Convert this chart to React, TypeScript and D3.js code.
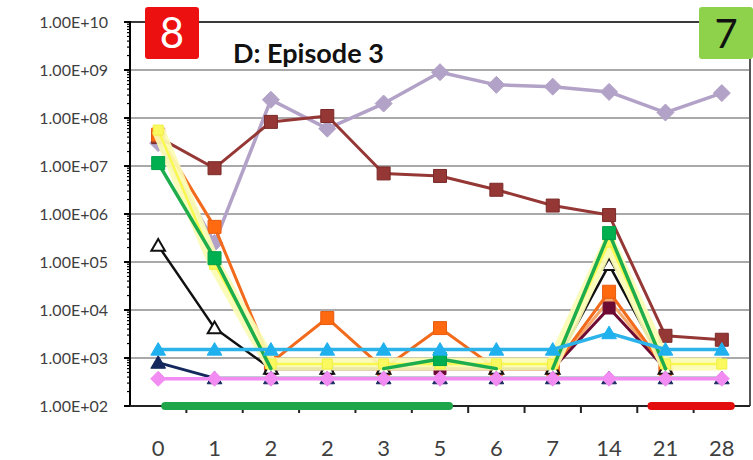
import React from "react";
import * as d3 from "d3";

const categories = ["0", "1", "2", "2", "3", "5", "6", "7", "14", "21", "28"];
const yTickValues = [1e2, 1e3, 1e4, 1e5, 1e6, 1e7, 1e8, 1e9, 1e10];
const yTickLabels = ["1.00E+02", "1.00E+03", "1.00E+04", "1.00E+05", "1.00E+06", "1.00E+07", "1.00E+08", "1.00E+09", "1.00E+10"];

const lavender = [3e7, 2.5e5, 2.4e8, 6e7, 2e8, 9e8, 4.9e8, 4.5e8, 3.5e8, 1.3e8, 3.3e8];
const brown = [4e7, 9e6, 8.3e7, 1.1e8, 7e6, 6.2e6, 3.2e6, 1.5e6, 9.5e5, 2.9e3, 2.4e3];
const salmon = [null, null, 600, 600, 600, 600, 600, 600, 1.6e4, 600, null];
const maroon = [null, null, 600, 600, 600, 600, 600, 600, 1.1e4, 600, null];
const orange = [4.5e7, 5.4e5, 800, 6.8e3, 600, 4.2e3, 600, 600, 2.4e4, 600, null];
const black = [2.2e5, 4.2e3, 600, 600, 600, 900, 600, 600, 8.7e4, 600, null];
const green = [1.15e7, 1.2e5, 600, 600, 600, 950, 600, 600, 4e5, 600, null];
const navy = [800, 380, 380, 380, 380, 380, 380, 380, 380, 380, 380];
const yellow = [5.6e7, 9e4, 750, 750, 750, 750, 750, 750, 2.6e5, 750, 750];
const lightBlue = [1500, 1500, 1500, 1500, 1500, 1500, 1500, 1500, 3300, 1500, 1500];
const pink = [370, 370, 370, 370, 370, 370, 370, 370, 370, 370, 370];

const detectionLimit = 700;
const boxLabels = ["8", "7"];
const titleText = "D: Episode 3";
const bars = [
  { from: 0, to: 5, color: "#1fa64b" },
  { from: 9, to: 10, color: "#e30d0d" },
];

type Style = { color: string; width: number; marker: string; fill: string; stroke: string; size: number; glow?: string; hideBelowLimit?: boolean };

const series: { values: (number | null)[]; style: Style }[] = [
  { values: lavender, style: { color: "#b3a2c7", width: 3.5, marker: "diamond", fill: "#b3a2c7", stroke: "#b3a2c7", size: 8.5 } },
  { values: brown, style: { color: "#953735", width: 3, marker: "square", fill: "#953735", stroke: "#7a2a28", size: 6.5 } },
  { values: salmon, style: { color: "#f7a86c", width: 3, marker: "square", fill: "#f7a86c", stroke: "#f7a86c", size: 5 } },
  { values: maroon, style: { color: "#6e0b32", width: 3, marker: "square", fill: "#6e0b32", stroke: "#6e0b32", size: 6 } },
  { values: orange, style: { color: "#f26a1b", width: 3, marker: "square", fill: "#ff6a10", stroke: "#e85c10", size: 6.5 } },
  { values: black, style: { color: "#111111", width: 2.5, marker: "triangle", fill: "#ffffff", stroke: "#111111", size: 6.5 } },
  { values: navy, style: { color: "#15285e", width: 3, marker: "triangle", fill: "#15285e", stroke: "#15285e", size: 7 } },
  { values: yellow, style: { color: "#f8f850", width: 2.5, marker: "square", fill: "#fafa60", stroke: "#f0f040", size: 5, glow: "#fcfcb4" } },
  { values: green, style: { color: "#1ead4c", width: 3.5, marker: "square", fill: "#00b050", stroke: "#00a048", size: 6.5, hideBelowLimit: true } },
  { values: lightBlue, style: { color: "#2bb3ea", width: 3.5, marker: "triangle", fill: "#1fb0ee", stroke: "#1fb0ee", size: 7 } },
  { values: pink, style: { color: "#f28cf2", width: 3.5, marker: "diamond", fill: "#f28cf2", stroke: "#f28cf2", size: 7.5 } },
];

const W = 753;
const H = 460;
const L = 130;
const R = 750;
const T = 22;
const B = 406;

function markerPath(shape: string, s: number) {
  if (shape === "diamond") return `M0,${-s}L${s},0L0,${s}L${-s},0Z`;
  if (shape === "triangle") return `M0,${-s}L${s * 1.05},${s * 0.8}L${-s * 1.05},${s * 0.8}Z`;
  return `M${-s},${-s}H${s}V${s}H${-s}Z`;
}

export default function App() {
  const x = d3.scaleBand<number>().domain(categories.map((_, i) => i)).range([L, R]).padding(0);
  const bw = x.bandwidth();
  const cx = (i: number) => (x(i) as number) + bw / 2;
  const y = d3.scaleLog().domain([1e2, 1e10]).range([B, T]);

  const line = d3
    .line<[number, number | null]>()
    .defined((d) => d[1] != null)
    .x((d) => cx(d[0]))
    .y((d) => y(d[1] as number));

  const isLow = (v: number | null) => v != null && v < detectionLimit;

  const minorTicks: number[] = [];
  for (let e = 2; e < 10; e++) for (let m = 2; m <= 9; m++) minorTicks.push(m * Math.pow(10, e));

  const font = "Lato, 'Open Sans', sans-serif";

  return (
    <svg width={W} height={H} style={{ position: "fixed", left: 0, top: 0, background: "#fff" }} fontFamily={font}>
      <rect width={W} height={H} fill="#fff" />
      {yTickValues.map((v, i) =>
        i === 0 || i === yTickValues.length - 1 ? null : (
          <line key={"g" + i} x1={L} x2={R} y1={y(v)} y2={y(v)} stroke="#a9a9a9" strokeWidth={2} />
        )
      )}
      <line x1={L} x2={R} y1={T} y2={T} stroke="#3a3a3a" strokeWidth={2} />
      <line x1={R} x2={R} y1={T} y2={B} stroke="#555" strokeWidth={2} />
      {yTickValues.map((v, i) => (
        <text key={"yl" + i} x={108} y={y(v) + 6} textAnchor="end" fontSize={16} fill="#3f3f3f">
          {yTickLabels[i]}
        </text>
      ))}
      {categories.map((c, i) => (
        <text key={"xl" + i} x={cx(i)} y={456} textAnchor="middle" fontSize={22} fill="#3f3f3f">
          {c}
        </text>
      ))}
      {series.map((s, k) => {
        const hideLow = !!s.style.hideBelowLimit;
        const pts: [number, number | null][] = s.values.map((v, i) => [i, v]);
        const paths: string[] = hideLow
          ? pts
              .slice(0, -1)
              .map((p, i) => [p, pts[i + 1]] as [number, number | null][])
              .filter((seg) => !(isLow(seg[0][1]) && isLow(seg[1][1])))
              .map((seg) => line(seg) || "")
          : [line(pts) || ""];
        return (
          <g key={"s" + k}>
            {s.style.glow && (
              <path d={line(pts) || ""} fill="none" stroke={s.style.glow} strokeWidth={13} strokeLinejoin="round" opacity={0.92} />
            )}
            {paths.map((d, j) => (
              <path key={"p" + j} d={d} fill="none" stroke={s.style.color} strokeWidth={s.style.width} strokeLinejoin="round" strokeLinecap="round" />
            ))}
            {s.values.map((v, i) =>
              v == null || (hideLow && isLow(v)) ? null : (
                <path
                  key={i}
                  transform={`translate(${cx(i)},${y(v)})`}
                  d={markerPath(s.style.marker, s.style.size)}
                  fill={s.style.fill}
                  stroke={s.style.stroke}
                  strokeWidth={s.style.marker === "triangle" && s.style.fill === "#ffffff" ? 2 : 1}
                />
              )
            )}
          </g>
        );
      })}
      <line x1={L} x2={L} y1={T - 1} y2={B} stroke="#000" strokeWidth={2} />
      <line x1={L} x2={R} y1={B} y2={B} stroke="#222" strokeWidth={2} />
      {yTickValues.map((v, i) => (
        <line key={"yt" + i} x1={L - 6} x2={L} y1={y(v)} y2={y(v)} stroke="#000" strokeWidth={2} />
      ))}
      {minorTicks.map((v, i) => (
        <line key={"mt" + i} x1={L - 3} x2={L} y1={y(v)} y2={y(v)} stroke="#000" strokeWidth={1.2} />
      ))}
      {categories.slice(1).map((_, i) => (
        <line key={"xt" + i} x1={x(i + 1) as number} x2={x(i + 1) as number} y1={B} y2={B + 7} stroke="#222" strokeWidth={2} />
      ))}
      {bars.map((b, i) => (
        <line
          key={"bar" + i}
          x1={cx(b.from) + (i === 0 ? 7 : -14)}
          x2={cx(b.to) + 9}
          y1={B}
          y2={B}
          stroke={b.color}
          strokeWidth={8}
          strokeLinecap="round"
        />
      ))}
      <rect x={145} y={7} width={54} height={52} rx={3} fill="#ec1010" />
      <text x={172} y={48} textAnchor="middle" fontSize={42} fill="#fff">
        {boxLabels[0]}
      </text>
      <rect x={699} y={7} width={54} height={52} rx={3} fill="#8ed24c" />
      <text x={726} y={48} textAnchor="middle" fontSize={40} fill="#111">
        {boxLabels[1]}
      </text>
      <text x={233} y={63} fontSize={27} fontWeight="bold" fill="#111">
        {titleText}
      </text>
    </svg>
  );
}
